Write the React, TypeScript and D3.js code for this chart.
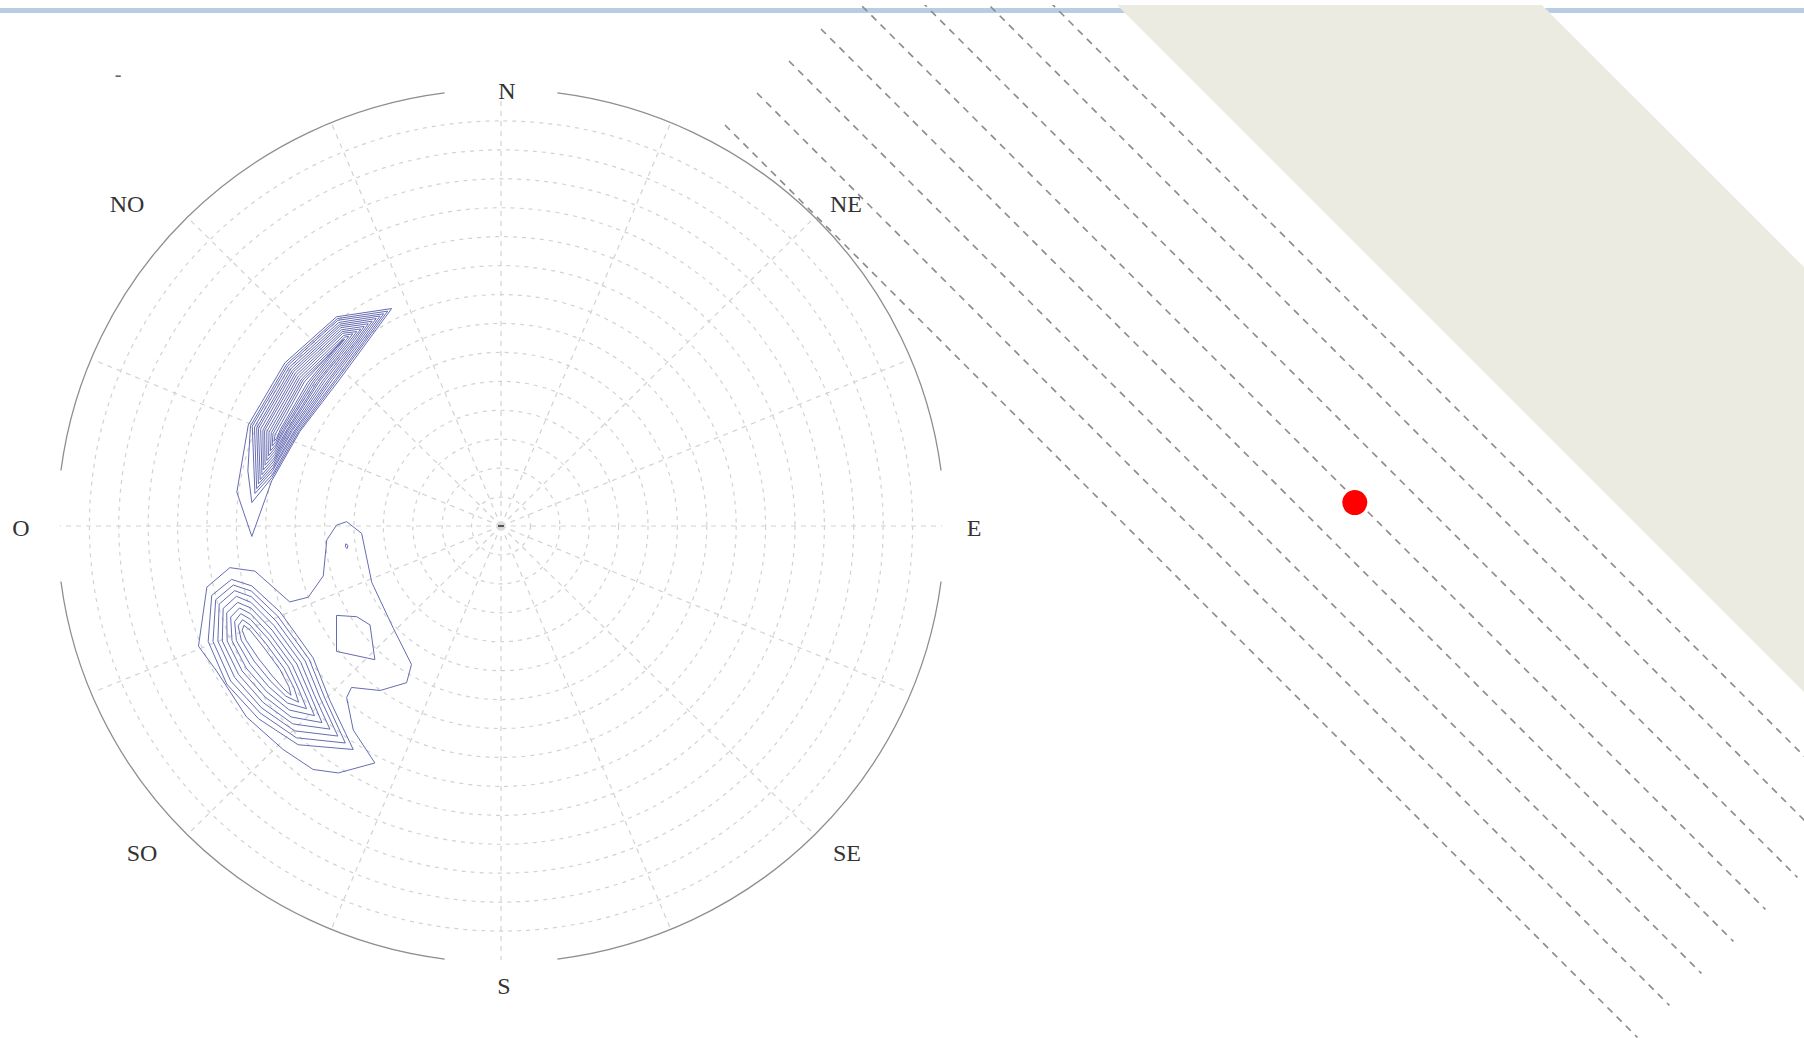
import React, { useEffect } from 'react';
import * as d3 from 'd3';

// ---------- data ----------
const compassLabels = ['N', 'NE', 'E', 'SE', 'S', 'SO', 'O', 'NO'];
const gridDivisions = 15;
const gridRingSteps = [1, 2, 3, 4, 5, 6, 7, 8, 9, 10, 11, 12, 13, 14];
const radialAzimuths = [0, 22.5, 45, 67.5, 90, 112.5, 135, 157.5, 180, 202.5, 225, 247.5, 270, 292.5, 315, 337.5];
const cardinalAzimuths = [0, 90, 180, 270];

// contour rings, net coordinates (% of net radius, x = east, y = north)
const upperContours: number[][][] = [
  [[-24.8, 50.1], [-37.3, 48.2], [-49.0, 37.6], [-57.3, 23.3], [-59.9, 7.8], [-56.5, -2.4], [-52.0, 10.4], [-45.6, 21.8], [-36.5, 33.9], [-30.5, 42.2]],
  [[-25.7, 49.5], [-37.1, 47.8], [-48.6, 37.3], [-56.8, 23.1], [-57.4, 12.7], [-56.5, 5.4], [-51.9, 11.2], [-45.9, 21.8], [-37.1, 33.8], [-30.9, 42.3]],
  [[-26.6, 48.9], [-37.0, 47.4], [-48.3, 37.0], [-56.4, 23.0], [-55.8, 7.5], [-51.8, 11.9], [-46.3, 21.8], [-37.6, 33.7], [-31.3, 42.3]],
  [[-27.4, 48.4], [-36.8, 46.9], [-48.0, 36.6], [-55.9, 22.8], [-55.4, 8.6], [-51.8, 12.7], [-46.6, 21.9], [-38.2, 33.7], [-31.7, 42.4]],
  [[-28.3, 47.8], [-36.6, 46.5], [-47.6, 36.3], [-55.4, 22.6], [-55.0, 9.7], [-51.7, 13.4], [-46.9, 21.9], [-38.8, 33.6], [-32.1, 42.5]],
  [[-29.2, 47.2], [-36.5, 46.1], [-47.3, 35.9], [-55.0, 22.5], [-54.6, 10.7], [-51.6, 14.2], [-47.3, 22.0], [-39.3, 33.5], [-32.5, 42.6]],
  [[-30.1, 46.6], [-36.3, 45.7], [-47.0, 35.6], [-54.5, 22.3], [-54.2, 11.8], [-51.5, 15.0], [-47.6, 22.0], [-39.9, 33.5], [-32.9, 42.6]],
  [[-31.0, 46.0], [-36.2, 45.2], [-46.6, 35.3], [-54.0, 22.1], [-53.9, 12.9], [-51.4, 15.7], [-48.0, 22.0], [-40.5, 33.4], [-33.3, 42.7]],
  [[-31.8, 45.4], [-36.0, 44.8], [-46.3, 34.9], [-53.6, 22.0], [-53.5, 14.0], [-51.3, 16.5], [-48.3, 22.1], [-41.1, 33.4], [-33.7, 42.8]],
  [[-32.7, 44.8], [-35.9, 44.4], [-45.9, 34.6], [-53.1, 21.8], [-53.1, 15.1], [-51.3, 17.2], [-48.6, 22.1], [-41.6, 33.3], [-34.1, 42.9]],
  [[-33.6, 44.3], [-35.7, 43.9], [-45.6, 34.2], [-52.6, 21.6], [-52.7, 16.2], [-51.2, 18.0], [-49.0, 22.2], [-42.2, 33.2], [-34.6, 42.9]],
  [[-34.5, 43.7], [-35.5, 43.5], [-45.2, 33.9], [-52.1, 21.5], [-52.3, 17.3], [-51.1, 18.7], [-49.3, 22.2], [-42.7, 33.2], [-35.0, 43.0]],
  [[-35.4, 43.1], [-44.9, 33.6], [-51.7, 21.3], [-51.9, 18.4], [-51.0, 19.5], [-49.7, 22.2], [-43.3, 33.1]],
  [[-35.8, 43.0], [-44.6, 33.2], [-51.2, 21.1], [-51.5, 19.5], [-50.9, 20.2], [-50.0, 22.3], [-43.9, 33.0]],
];

const lowerContours: number[][][] = [
  [[-61.5, -9.6], [-55.8, -10.4], [-47.9, -17.5], [-43.7, -16.4], [-40.3, -11.5], [-39.5, -3.2], [-37.3, 0.2], [-35.0, 1.0], [-31.6, -1.7], [-29.3, -13.0], [-24.4, -23.6], [-20.3, -31.9], [-21.4, -36.1], [-27.4, -37.9], [-33.9, -37.2], [-35.0, -39.5], [-33.5, -47.0], [-28.6, -54.6], [-36.9, -56.9], [-42.6, -56.1], [-49.4, -51.5], [-57.7, -44.0], [-64.5, -33.4], [-68.6, -27.7], [-66.7, -14.1]],
  [[-37.3, -20.6], [-32.7, -20.9], [-29.7, -22.8], [-28.6, -30.8], [-37.3, -28.9]],
  [[-35.2, -4.1], [-34.7, -4.5], [-34.9, -5.2], [-35.3, -4.8]],
  [[-61.1, -12.3], [-65.6, -16.0], [-66.4, -26.6], [-62.2, -36.4], [-55.0, -44.4], [-46.0, -50.4], [-33.5, -51.5], [-38.8, -40.2], [-42.6, -30.4], [-50.1, -19.8], [-56.5, -13.8]],
  [[-60.7, -13.6], [-64.7, -17.0], [-65.3, -26.6], [-61.3, -35.7], [-54.6, -43.1], [-46.4, -48.8], [-35.3, -50.0], [-39.9, -39.8], [-43.5, -30.7], [-50.6, -20.8], [-56.6, -15.0]],
  [[-60.4, -14.9], [-63.9, -18.0], [-64.2, -26.5], [-60.4, -34.9], [-54.3, -41.9], [-46.8, -47.2], [-37.0, -48.4], [-41.1, -39.4], [-44.4, -31.1], [-51.0, -21.9], [-56.6, -16.3]],
  [[-60.0, -16.2], [-63.0, -19.0], [-63.2, -26.5], [-59.5, -34.2], [-53.9, -40.7], [-47.2, -45.6], [-38.8, -46.8], [-42.3, -39.0], [-45.4, -31.4], [-51.5, -22.9], [-56.7, -17.6]],
  [[-59.7, -17.6], [-62.2, -20.0], [-62.1, -26.5], [-58.7, -33.4], [-53.5, -39.4], [-47.6, -44.0], [-40.6, -45.3], [-43.4, -38.6], [-46.3, -31.8], [-51.9, -24.0], [-56.7, -18.9]],
  [[-59.3, -18.9], [-61.3, -21.0], [-61.0, -26.4], [-57.8, -32.7], [-53.1, -38.2], [-48.0, -42.4], [-42.3, -43.7], [-44.6, -38.2], [-47.3, -32.1], [-52.4, -25.0], [-56.8, -20.2]],
  [[-59.0, -20.2], [-60.4, -22.0], [-60.0, -26.4], [-56.9, -31.9], [-52.7, -37.0], [-48.4, -40.8], [-44.1, -42.1], [-45.8, -37.8], [-48.2, -32.4], [-52.8, -26.0], [-56.8, -21.5]],
  [[-58.6, -21.6], [-59.6, -23.0], [-58.9, -26.3], [-56.0, -31.1], [-52.3, -35.7], [-48.8, -39.2], [-45.9, -40.6], [-46.9, -37.4], [-49.2, -32.8], [-53.3, -27.1], [-56.9, -22.8]],
  [[-58.3, -22.9], [-58.7, -24.0], [-57.8, -26.3], [-55.1, -30.4], [-51.9, -34.5], [-49.2, -37.6], [-47.6, -39.0], [-48.1, -37.0], [-50.1, -33.1], [-53.7, -28.1], [-56.9, -24.0]],
];

// parallel traces on the right panel (index of trace, along-trace extent 0..1)
const traceOffsets = [0, 1, 2, 3, 4, 5, 6, 7];
const traceExtent = [0, 1];
const bandOffsets = [8, 14.64];
const pole = { along: 0.552, offset: 3.94 };

// ---------- layout ----------
const W = 1804;
const H = 1038;
const CX = 501;
const CY = 526;
const RX = 441;
const RY = 434;
const OUTER = 1.006;
const GAP = 7.3; // degrees of outer circle left open at cardinal labels

const labelPos: Record<string, [number, number]> = {
  N: [507, 91], NE: [846, 204], E: [974, 528], SE: [847, 853],
  S: [504, 986], SO: [142, 853], O: [21, 528], NO: [127, 204],
};

export default function App() {
  useEffect(() => {
    document.body.style.margin = '0';
  }, []);

  const x = d3.scaleLinear().domain([-100, 100]).range([CX - RX, CX + RX]);
  const y = d3.scaleLinear().domain([-100, 100]).range([CY + RY, CY - RY]);
  const rxScale = d3.scaleLinear().domain([0, gridDivisions]).range([0, RX]);
  const ryScale = d3.scaleLinear().domain([0, gridDivisions]).range([0, RY]);
  const ring = d3.line<number[]>().x(d => x(d[0])).y(d => y(d[1])).curve(d3.curveLinearClosed);

  const rad = (deg: number) => (deg * Math.PI) / 180;
  const ex = (a: number, k: number) => CX + rxScale(k) * Math.sin(rad(a));
  const ey = (a: number, k: number) => CY - ryScale(k) * Math.cos(rad(a));

  const outerArcs = cardinalAzimuths.map(a => {
    const k = gridDivisions * OUTER;
    const a0 = a + GAP;
    const a1 = a + 90 - GAP;
    return `M${ex(a0, k)},${ey(a0, k)} A${rxScale(k)},${ryScale(k)} 0 0 1 ${ex(a1, k)},${ey(a1, k)}`;
  });

  // right panel: traces at 45 degrees
  const off = d3.scaleLinear().domain([0, 7]).range([-600, -1048]); // y - x
  const along = d3.scaleLinear().domain([0, 1]).range([850, 2675]); // x + y
  const pt = (a: number, o: number): [number, number] => {
    const s = along(a);
    const c = off(o);
    return [(s - c) / 2, (s + c) / 2];
  };
  const band = [pt(-1, bandOffsets[0]), pt(3, bandOffsets[0]), pt(3, bandOffsets[1]), pt(-1, bandOffsets[1])];
  const polePt = pt(pole.along, pole.offset);

  const font = "'Liberation Serif', 'DejaVu Serif', serif";

  return (
    <svg width={W} height={H} viewBox={`0 0 ${W} ${H}`} style={{ display: 'block', background: '#fff' }}>
      <defs>
        <clipPath id="frame">
          <rect x={0} y={5} width={W} height={H - 5} />
        </clipPath>
      </defs>

      {/* top rule */}
      <rect x={0} y={8} width={W} height={5} fill="#b8cce4" />

      {/* polar grid */}
      <g fill="none" stroke="#d2d2d2" strokeWidth={1.2}>
        {gridRingSteps.map(k => (
          <ellipse key={k} cx={CX} cy={CY} rx={rxScale(k)} ry={ryScale(k)} strokeDasharray="4 5" />
        ))}
        {radialAzimuths.map(a => (
          <line key={a} x1={CX} y1={CY} x2={ex(a, gridDivisions)} y2={ey(a, gridDivisions)} strokeDasharray="5 5" />
        ))}
      </g>
      <line x1={CX - 3} y1={CY} x2={CX + 3} y2={CY} stroke="#555" strokeWidth={2} />

      {/* outer circle */}
      <g fill="none" stroke="#8e8e8e" strokeWidth={1.3}>
        {outerArcs.map((d, i) => <path key={i} d={d} />)}
      </g>

      {/* contours */}
      <g fill="none" stroke="#666cb3" strokeWidth={1}>
        {upperContours.map((c, i) => <path key={'u' + i} d={ring(c) || ''} />)}
        {lowerContours.map((c, i) => <path key={'l' + i} d={ring(c) || ''} />)}
      </g>

      {/* labels */}
      <g fontFamily={font} fontSize={24} fill="#333" textAnchor="middle" dominantBaseline="central">
        {compassLabels.map(l => (
          <text key={l} x={labelPos[l][0]} y={labelPos[l][1]}>{l}</text>
        ))}
        <text x={118} y={74} fontSize={20} fill="#666">-</text>
      </g>

      {/* right panel */}
      <g clipPath="url(#frame)">
        <polygon points={band.map(p => p.join(',')).join(' ')} fill="#ecebe1" />
        <g stroke="#8a8a8a" strokeWidth={1.6} strokeDasharray="7 6" fill="none">
          {traceOffsets.map(o => {
            const a = pt(traceExtent[0], o);
            const b = pt(traceExtent[1], o);
            return <line key={o} x1={a[0]} y1={a[1]} x2={b[0]} y2={b[1]} />;
          })}
        </g>
        <circle cx={polePt[0]} cy={polePt[1]} r={12.5} fill="#ff0000" />
      </g>
    </svg>
  );
}
